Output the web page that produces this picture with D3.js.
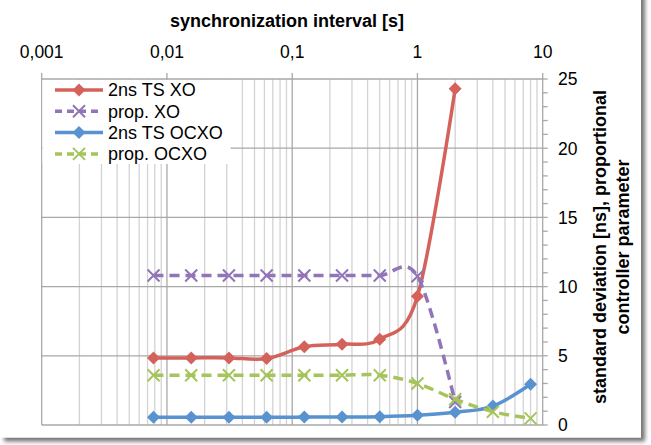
<!DOCTYPE html>
<html>
<head>
<meta charset="utf-8">
<script src="https://cdn.jsdelivr.net/npm/d3@7"></script>
<style>
body { margin:0; background:#fff; }
text { font-family: "Liberation Sans", Arial, sans-serif; fill:#000; }
</style>
</head>
<body>
<svg id="svg0" width="651" height="445"></svg>
<script>

var width = 651,
    height = 445;

// synchronization interval [s]
var intervals = [1/128, 1/64, 1/32, 1/16, 1/8, 1/4, 1/2, 1, 2, 4, 8];

var ts_xo     = [4.85, 4.85, 4.85, 4.8, 5.65, 5.83, 6.2, 9.3, 24.3];
var prop_xo   = [10.8, 10.8, 10.8, 10.8, 10.8, 10.8, 10.8, 10.75, 1.66];
var ts_ocxo   = [0.56, 0.56, 0.56, 0.56, 0.57, 0.58, 0.6, 0.7, 0.92, 1.37, 2.94];
var prop_ocxo = [3.6, 3.6, 3.6, 3.6, 3.6, 3.6, 3.6, 3.0, 1.86, 0.96, 0.48];

var xTicks = [0.001, 0.01, 0.1, 1, 10],
    xTickLabels = ["0,001", "0,01", "0,1", "1", "10"];
var yTicks = [0, 5, 10, 15, 20, 25];

var seriesNames = ["2ns TS XO", "prop. XO", "2ns TS OCXO", "prop. OCXO"];


var qSVG = d3.select("#svg0");

// the card with shadow
var defs = qSVG.append("defs");
defs.append("filter").attr("id", "shd")
    .attr("x", "-5%").attr("y", "-5%").attr("width", "115%").attr("height", "115%")
    .append("feDropShadow")
    .attr("dx", 4).attr("dy", 4).attr("stdDeviation", 2.2)
    .attr("flood-color", "#000").attr("flood-opacity", 0.55);

qSVG.append("rect")
    .attr("x", 0).attr("y", -10)
    .attr("width", 641).attr("height", 447.5)
    .attr("fill", "#fff")
    .attr("filter", "url(#shd)");

var x = d3.scaleLog().domain([0.001, 10]).range([41.7, 542.7]);
var y = d3.scaleLinear().domain([0, 25]).range([425, 79]);

var g = qSVG.append("g");

// minor vertical grid
var minors = [];
xTicks.slice(0, 4).forEach(function(d) {
    for (var k = 2; k < 10; k++) minors.push(d * k);
});

g.selectAll(".vmin")
    .data(minors)
    .enter()
    .append("line")
    .attr("x1", function(d) { return x(d) })
    .attr("x2", function(d) { return x(d) })
    .attr("y1", y(0)).attr("y2", y(25))
    .attr("stroke", "#d3d3d3")
    .attr("stroke-width", 1.3);

// major grid
g.selectAll(".vmaj")
    .data(xTicks)
    .enter()
    .append("line")
    .attr("x1", function(d) { return x(d) })
    .attr("x2", function(d) { return x(d) })
    .attr("y1", y(0)).attr("y2", y(25) - 6)
    .attr("stroke", "#a8a8a8")
    .attr("stroke-width", 1.3);

g.selectAll(".hmaj")
    .data(yTicks)
    .enter()
    .append("line")
    .attr("x1", x(0.001))
    .attr("x2", x(10))
    .attr("y1", function(d) { return y(d) })
    .attr("y2", function(d) { return y(d) })
    .attr("stroke", "#a8a8a8")
    .attr("stroke-width", 1.3);

// right axis small ticks
g.selectAll(".rt")
    .data(d3.range(0, 26))
    .enter()
    .append("line")
    .attr("x1", x(10))
    .attr("x2", x(10) + 5)
    .attr("y1", function(d) { return y(d) })
    .attr("y2", function(d) { return y(d) })
    .attr("stroke", "#a8a8a8")
    .attr("stroke-width", 1.3);

// top labels
g.selectAll(".xl")
    .data(xTicks)
    .enter()
    .append("text")
    .text(function(d, i) { return xTickLabels[i] })
    .attr("x", function(d) { return x(d) })
    .attr("y", 58)
    .attr("text-anchor", "middle")
    .style("font-size", "17.5px");

g.append("text")
    .text("synchronization interval [s]")
    .attr("x", 287)
    .attr("y", 27)
    .attr("text-anchor", "middle")
    .style("font-size", "18px")
    .style("font-weight", "bold");

// right labels
g.selectAll(".yl")
    .data(yTicks)
    .enter()
    .append("text")
    .text(function(d) { return d })
    .attr("x", 558)
    .attr("y", function(d) { return y(d) })
    .attr("dy", "0.36em")
    .style("font-size", "17.5px");

var yt = g.append("text")
    .attr("transform", "translate(0,247) rotate(-90)")
    .attr("text-anchor", "middle")
    .style("font-size", "18px")
    .style("font-weight", "bold");
yt.append("tspan").attr("x", 0).attr("y", 606).text("standard deviation [ns], proportional");
yt.append("tspan").attr("x", 0).attr("y", 629).text("controller parameter");


////////  series

var colors = ["#d4625b", "#9175b8", "#5893cf", "#a5c45c"];
var dashed = [false, true, false, true];
var allData = [ts_xo, prop_xo, ts_ocxo, prop_ocxo];

var line = d3.line()
    .x(function(d, i) { return x(intervals[i]) })
    .y(function(d) { return y(d) })
    .curve(d3.curveCardinal.tension(0));

function marker(sel, isX, col) {
    if (isX) {
        sel.append("path")
            .attr("d", "M-6,-6L6,6M-6,6L6,-6")
            .attr("stroke", col)
            .attr("stroke-width", 2)
            .attr("fill", "none");
    } else {
        sel.append("path")
            .attr("d", "M0,-6.5L6.5,0L0,6.5L-6.5,0Z")
            .attr("fill", col);
    }
}

allData.forEach(function(data, s) {
    var sg = g.append("g");
    sg.append("path")
        .attr("d", line(data))
        .attr("fill", "none")
        .attr("stroke", colors[s])
        .attr("stroke-width", 3.5)
        .attr("stroke-dasharray", dashed[s] ? "10,6" : null);

    sg.selectAll(".pt")
        .data(data)
        .enter()
        .append("g")
        .attr("transform", function(d, i) { return "translate(" + x(intervals[i]) + "," + y(d) + ")" })
        .each(function() { marker(d3.select(this), dashed[s], colors[s]) });
});


////////  legend

var lg = g.append("g");
lg.append("rect")
    .attr("x", 42.5).attr("y", 80)
    .attr("width", 188).attr("height", 84)
    .attr("fill", "#fff");

seriesNames.forEach(function(name, s) {
    var ly = 90 + s * 21.3;
    lg.append("line")
        .attr("x1", 55).attr("x2", 103)
        .attr("y1", ly).attr("y2", ly)
        .attr("stroke", colors[s])
        .attr("stroke-width", 3.5)
        .attr("stroke-dasharray", dashed[s] ? "7,5" : null);
    var mg = lg.append("g").attr("transform", "translate(79," + ly + ")");
    marker(mg, dashed[s], colors[s]);
    lg.append("text")
        .text(name)
        .attr("x", 108)
        .attr("y", ly)
        .attr("dy", "0.36em")
        .style("font-size", "18px");
});

</script>
</body>
</html>
